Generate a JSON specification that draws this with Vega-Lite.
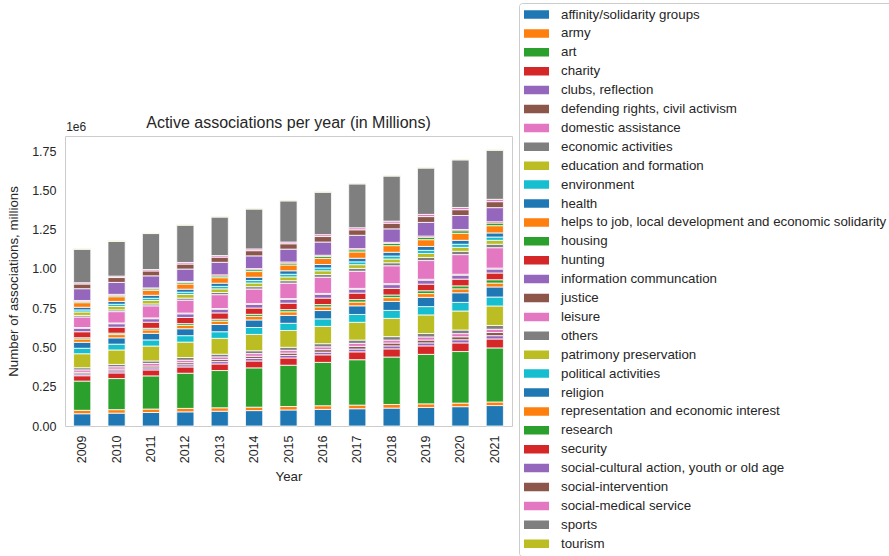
{
  "$schema": "https://vega.github.io/schema/vega-lite/v6.json",
  "autosize": {"type": "none"},
  "padding": {"left": 65, "top": 136, "right": 377, "bottom": 130},
  "width": 447,
  "height": 290,
  "background": "white",
  "config": {
    "font": "Liberation Sans",
    "view": {"stroke": "#cccccc", "strokeWidth": 1},
    "axis": {"labelColor": "#262626", "titleColor": "#262626", "labelFont": "Liberation Sans", "titleFont": "Liberation Sans", "titleFontWeight": "normal", "grid": false, "domain": false, "ticks": false},
    "title": {"font": "Liberation Sans", "fontSize": 16, "fontWeight": "normal", "color": "#262626", "offset": -128}
  },
  "title": "Active associations per year (in Millions)",
  "datasets": {
    "assoc": [
      {"year":"2009","category":"affinity/solidarity groups","value":78},{"year":"2010","category":"affinity/solidarity groups","value":82},{"year":"2011","category":"affinity/solidarity groups","value":86},{"year":"2012","category":"affinity/solidarity groups","value":90},{"year":"2013","category":"affinity/solidarity groups","value":94},{"year":"2014","category":"affinity/solidarity groups","value":98},{"year":"2015","category":"affinity/solidarity groups","value":102},{"year":"2016","category":"affinity/solidarity groups","value":106},{"year":"2017","category":"affinity/solidarity groups","value":110},{"year":"2018","category":"affinity/solidarity groups","value":114},{"year":"2019","category":"affinity/solidarity groups","value":118},{"year":"2020","category":"affinity/solidarity groups","value":123},{"year":"2021","category":"affinity/solidarity groups","value":130},
      {"year":"2009","category":"army","value":22},{"year":"2010","category":"army","value":22},{"year":"2011","category":"army","value":22},{"year":"2012","category":"army","value":22},{"year":"2013","category":"army","value":22},{"year":"2014","category":"army","value":22},{"year":"2015","category":"army","value":22},{"year":"2016","category":"army","value":23},{"year":"2017","category":"army","value":23},{"year":"2018","category":"army","value":23},{"year":"2019","category":"army","value":23},{"year":"2020","category":"army","value":23},{"year":"2021","category":"army","value":23},
      {"year":"2009","category":"art","value":186},{"year":"2010","category":"art","value":198},{"year":"2011","category":"art","value":211},{"year":"2012","category":"art","value":224},{"year":"2013","category":"art","value":237},{"year":"2014","category":"art","value":250},{"year":"2015","category":"art","value":263},{"year":"2016","category":"art","value":276},{"year":"2017","category":"art","value":289},{"year":"2018","category":"art","value":302},{"year":"2019","category":"art","value":315},{"year":"2020","category":"art","value":328},{"year":"2021","category":"art","value":344},
      {"year":"2009","category":"charity","value":34},{"year":"2010","category":"charity","value":36},{"year":"2011","category":"charity","value":38},{"year":"2012","category":"charity","value":40},{"year":"2013","category":"charity","value":42},{"year":"2014","category":"charity","value":44},{"year":"2015","category":"charity","value":46},{"year":"2016","category":"charity","value":48},{"year":"2017","category":"charity","value":50},{"year":"2018","category":"charity","value":52},{"year":"2019","category":"charity","value":54},{"year":"2020","category":"charity","value":55},{"year":"2021","category":"charity","value":57},
      {"year":"2009","category":"clubs, reflection","value":12},{"year":"2010","category":"clubs, reflection","value":13},{"year":"2011","category":"clubs, reflection","value":13},{"year":"2012","category":"clubs, reflection","value":14},{"year":"2013","category":"clubs, reflection","value":15},{"year":"2014","category":"clubs, reflection","value":16},{"year":"2015","category":"clubs, reflection","value":16},{"year":"2016","category":"clubs, reflection","value":17},{"year":"2017","category":"clubs, reflection","value":18},{"year":"2018","category":"clubs, reflection","value":19},{"year":"2019","category":"clubs, reflection","value":19},{"year":"2020","category":"clubs, reflection","value":20},{"year":"2021","category":"clubs, reflection","value":21},
      {"year":"2009","category":"defending rights, civil activism","value":10},{"year":"2010","category":"defending rights, civil activism","value":11},{"year":"2011","category":"defending rights, civil activism","value":12},{"year":"2012","category":"defending rights, civil activism","value":13},{"year":"2013","category":"defending rights, civil activism","value":13},{"year":"2014","category":"defending rights, civil activism","value":14},{"year":"2015","category":"defending rights, civil activism","value":15},{"year":"2016","category":"defending rights, civil activism","value":16},{"year":"2017","category":"defending rights, civil activism","value":17},{"year":"2018","category":"defending rights, civil activism","value":18},{"year":"2019","category":"defending rights, civil activism","value":18},{"year":"2020","category":"defending rights, civil activism","value":19},{"year":"2021","category":"defending rights, civil activism","value":20},
      {"year":"2009","category":"domestic assistance","value":15},{"year":"2010","category":"domestic assistance","value":15},{"year":"2011","category":"domestic assistance","value":16},{"year":"2012","category":"domestic assistance","value":16},{"year":"2013","category":"domestic assistance","value":17},{"year":"2014","category":"domestic assistance","value":17},{"year":"2015","category":"domestic assistance","value":18},{"year":"2016","category":"domestic assistance","value":18},{"year":"2017","category":"domestic assistance","value":19},{"year":"2018","category":"domestic assistance","value":19},{"year":"2019","category":"domestic assistance","value":20},{"year":"2020","category":"domestic assistance","value":20},{"year":"2021","category":"domestic assistance","value":21},
      {"year":"2009","category":"economic activities","value":14},{"year":"2010","category":"economic activities","value":15},{"year":"2011","category":"economic activities","value":16},{"year":"2012","category":"economic activities","value":17},{"year":"2013","category":"economic activities","value":17},{"year":"2014","category":"economic activities","value":18},{"year":"2015","category":"economic activities","value":19},{"year":"2016","category":"economic activities","value":20},{"year":"2017","category":"economic activities","value":21},{"year":"2018","category":"economic activities","value":22},{"year":"2019","category":"economic activities","value":22},{"year":"2020","category":"economic activities","value":23},{"year":"2021","category":"economic activities","value":24},
      {"year":"2009","category":"education and formation","value":89},{"year":"2010","category":"education and formation","value":92},{"year":"2011","category":"education and formation","value":95},{"year":"2012","category":"education and formation","value":98},{"year":"2013","category":"education and formation","value":101},{"year":"2014","category":"education and formation","value":104},{"year":"2015","category":"education and formation","value":107},{"year":"2016","category":"education and formation","value":110},{"year":"2017","category":"education and formation","value":113},{"year":"2018","category":"education and formation","value":116},{"year":"2019","category":"education and formation","value":118},{"year":"2020","category":"education and formation","value":121},{"year":"2021","category":"education and formation","value":124},
      {"year":"2009","category":"environment","value":35},{"year":"2010","category":"environment","value":37},{"year":"2011","category":"environment","value":39},{"year":"2012","category":"environment","value":41},{"year":"2013","category":"environment","value":42},{"year":"2014","category":"environment","value":44},{"year":"2015","category":"environment","value":46},{"year":"2016","category":"environment","value":48},{"year":"2017","category":"environment","value":50},{"year":"2018","category":"environment","value":51},{"year":"2019","category":"environment","value":53},{"year":"2020","category":"environment","value":55},{"year":"2021","category":"environment","value":57},
      {"year":"2009","category":"health","value":38},{"year":"2010","category":"health","value":40},{"year":"2011","category":"health","value":42},{"year":"2012","category":"health","value":44},{"year":"2013","category":"health","value":46},{"year":"2014","category":"health","value":48},{"year":"2015","category":"health","value":50},{"year":"2016","category":"health","value":53},{"year":"2017","category":"health","value":55},{"year":"2018","category":"health","value":57},{"year":"2019","category":"health","value":59},{"year":"2020","category":"health","value":61},{"year":"2021","category":"health","value":64},
      {"year":"2009","category":"helps to job, local development and economic solidarity","value":21},{"year":"2010","category":"helps to job, local development and economic solidarity","value":21},{"year":"2011","category":"helps to job, local development and economic solidarity","value":22},{"year":"2012","category":"helps to job, local development and economic solidarity","value":22},{"year":"2013","category":"helps to job, local development and economic solidarity","value":22},{"year":"2014","category":"helps to job, local development and economic solidarity","value":23},{"year":"2015","category":"helps to job, local development and economic solidarity","value":23},{"year":"2016","category":"helps to job, local development and economic solidarity","value":23},{"year":"2017","category":"helps to job, local development and economic solidarity","value":24},{"year":"2018","category":"helps to job, local development and economic solidarity","value":24},{"year":"2019","category":"helps to job, local development and economic solidarity","value":24},{"year":"2020","category":"helps to job, local development and economic solidarity","value":25},{"year":"2021","category":"helps to job, local development and economic solidarity","value":25},
      {"year":"2009","category":"housing","value":8},{"year":"2010","category":"housing","value":9},{"year":"2011","category":"housing","value":10},{"year":"2012","category":"housing","value":11},{"year":"2013","category":"housing","value":12},{"year":"2014","category":"housing","value":13},{"year":"2015","category":"housing","value":14},{"year":"2016","category":"housing","value":15},{"year":"2017","category":"housing","value":16},{"year":"2018","category":"housing","value":17},{"year":"2019","category":"housing","value":18},{"year":"2020","category":"housing","value":19},{"year":"2021","category":"housing","value":21},
      {"year":"2009","category":"hunting","value":38},{"year":"2010","category":"hunting","value":38},{"year":"2011","category":"hunting","value":39},{"year":"2012","category":"hunting","value":39},{"year":"2013","category":"hunting","value":40},{"year":"2014","category":"hunting","value":40},{"year":"2015","category":"hunting","value":41},{"year":"2016","category":"hunting","value":41},{"year":"2017","category":"hunting","value":41},{"year":"2018","category":"hunting","value":42},{"year":"2019","category":"hunting","value":42},{"year":"2020","category":"hunting","value":43},{"year":"2021","category":"hunting","value":43},
      {"year":"2009","category":"information communcation","value":22},{"year":"2010","category":"information communcation","value":22},{"year":"2011","category":"information communcation","value":22},{"year":"2012","category":"information communcation","value":23},{"year":"2013","category":"information communcation","value":23},{"year":"2014","category":"information communcation","value":23},{"year":"2015","category":"information communcation","value":24},{"year":"2016","category":"information communcation","value":24},{"year":"2017","category":"information communcation","value":24},{"year":"2018","category":"information communcation","value":24},{"year":"2019","category":"information communcation","value":25},{"year":"2020","category":"information communcation","value":25},{"year":"2021","category":"information communcation","value":25},
      {"year":"2009","category":"justice","value":5},{"year":"2010","category":"justice","value":5},{"year":"2011","category":"justice","value":5},{"year":"2012","category":"justice","value":5},{"year":"2013","category":"justice","value":5},{"year":"2014","category":"justice","value":5},{"year":"2015","category":"justice","value":5},{"year":"2016","category":"justice","value":6},{"year":"2017","category":"justice","value":6},{"year":"2018","category":"justice","value":6},{"year":"2019","category":"justice","value":6},{"year":"2020","category":"justice","value":6},{"year":"2021","category":"justice","value":6},
      {"year":"2009","category":"leisure","value":67},{"year":"2010","category":"leisure","value":72},{"year":"2011","category":"leisure","value":77},{"year":"2012","category":"leisure","value":82},{"year":"2013","category":"leisure","value":88},{"year":"2014","category":"leisure","value":93},{"year":"2015","category":"leisure","value":98},{"year":"2016","category":"leisure","value":103},{"year":"2017","category":"leisure","value":109},{"year":"2018","category":"leisure","value":114},{"year":"2019","category":"leisure","value":119},{"year":"2020","category":"leisure","value":125},{"year":"2021","category":"leisure","value":130},
      {"year":"2009","category":"others","value":10},{"year":"2010","category":"others","value":11},{"year":"2011","category":"others","value":12},{"year":"2012","category":"others","value":13},{"year":"2013","category":"others","value":14},{"year":"2014","category":"others","value":15},{"year":"2015","category":"others","value":16},{"year":"2016","category":"others","value":17},{"year":"2017","category":"others","value":18},{"year":"2018","category":"others","value":19},{"year":"2019","category":"others","value":20},{"year":"2020","category":"others","value":21},{"year":"2021","category":"others","value":22},
      {"year":"2009","category":"patrimony preservation","value":22},{"year":"2010","category":"patrimony preservation","value":22},{"year":"2011","category":"patrimony preservation","value":22},{"year":"2012","category":"patrimony preservation","value":23},{"year":"2013","category":"patrimony preservation","value":23},{"year":"2014","category":"patrimony preservation","value":23},{"year":"2015","category":"patrimony preservation","value":24},{"year":"2016","category":"patrimony preservation","value":24},{"year":"2017","category":"patrimony preservation","value":24},{"year":"2018","category":"patrimony preservation","value":24},{"year":"2019","category":"patrimony preservation","value":25},{"year":"2020","category":"patrimony preservation","value":25},{"year":"2021","category":"patrimony preservation","value":25},
      {"year":"2009","category":"political activities","value":13},{"year":"2010","category":"political activities","value":14},{"year":"2011","category":"political activities","value":14},{"year":"2012","category":"political activities","value":15},{"year":"2013","category":"political activities","value":16},{"year":"2014","category":"political activities","value":16},{"year":"2015","category":"political activities","value":17},{"year":"2016","category":"political activities","value":18},{"year":"2017","category":"political activities","value":18},{"year":"2018","category":"political activities","value":19},{"year":"2019","category":"political activities","value":20},{"year":"2020","category":"political activities","value":20},{"year":"2021","category":"political activities","value":21},
      {"year":"2009","category":"religion","value":17},{"year":"2010","category":"religion","value":18},{"year":"2011","category":"religion","value":19},{"year":"2012","category":"religion","value":19},{"year":"2013","category":"religion","value":20},{"year":"2014","category":"religion","value":21},{"year":"2015","category":"religion","value":22},{"year":"2016","category":"religion","value":22},{"year":"2017","category":"religion","value":23},{"year":"2018","category":"religion","value":24},{"year":"2019","category":"religion","value":25},{"year":"2020","category":"religion","value":25},{"year":"2021","category":"religion","value":26},
      {"year":"2009","category":"representation and economic interest","value":29},{"year":"2010","category":"representation and economic interest","value":30},{"year":"2011","category":"representation and economic interest","value":32},{"year":"2012","category":"representation and economic interest","value":33},{"year":"2013","category":"representation and economic interest","value":35},{"year":"2014","category":"representation and economic interest","value":36},{"year":"2015","category":"representation and economic interest","value":37},{"year":"2016","category":"representation and economic interest","value":39},{"year":"2017","category":"representation and economic interest","value":40},{"year":"2018","category":"representation and economic interest","value":42},{"year":"2019","category":"representation and economic interest","value":43},{"year":"2020","category":"representation and economic interest","value":45},{"year":"2021","category":"representation and economic interest","value":46},
      {"year":"2009","category":"research","value":8},{"year":"2010","category":"research","value":9},{"year":"2011","category":"research","value":9},{"year":"2012","category":"research","value":10},{"year":"2013","category":"research","value":11},{"year":"2014","category":"research","value":12},{"year":"2015","category":"research","value":12},{"year":"2016","category":"research","value":13},{"year":"2017","category":"research","value":14},{"year":"2018","category":"research","value":14},{"year":"2019","category":"research","value":15},{"year":"2020","category":"research","value":16},{"year":"2021","category":"research","value":17},
      {"year":"2009","category":"security","value":6},{"year":"2010","category":"security","value":6},{"year":"2011","category":"security","value":6},{"year":"2012","category":"security","value":6},{"year":"2013","category":"security","value":7},{"year":"2014","category":"security","value":7},{"year":"2015","category":"security","value":7},{"year":"2016","category":"security","value":7},{"year":"2017","category":"security","value":7},{"year":"2018","category":"security","value":7},{"year":"2019","category":"security","value":8},{"year":"2020","category":"security","value":8},{"year":"2021","category":"security","value":8},
      {"year":"2009","category":"social-cultural action, youth or old age","value":75},{"year":"2010","category":"social-cultural action, youth or old age","value":76},{"year":"2011","category":"social-cultural action, youth or old age","value":77},{"year":"2012","category":"social-cultural action, youth or old age","value":79},{"year":"2013","category":"social-cultural action, youth or old age","value":80},{"year":"2014","category":"social-cultural action, youth or old age","value":81},{"year":"2015","category":"social-cultural action, youth or old age","value":82},{"year":"2016","category":"social-cultural action, youth or old age","value":84},{"year":"2017","category":"social-cultural action, youth or old age","value":85},{"year":"2018","category":"social-cultural action, youth or old age","value":86},{"year":"2019","category":"social-cultural action, youth or old age","value":87},{"year":"2020","category":"social-cultural action, youth or old age","value":89},{"year":"2021","category":"social-cultural action, youth or old age","value":90},
      {"year":"2009","category":"social-intervention","value":30},{"year":"2010","category":"social-intervention","value":31},{"year":"2011","category":"social-intervention","value":31},{"year":"2012","category":"social-intervention","value":32},{"year":"2013","category":"social-intervention","value":33},{"year":"2014","category":"social-intervention","value":33},{"year":"2015","category":"social-intervention","value":34},{"year":"2016","category":"social-intervention","value":35},{"year":"2017","category":"social-intervention","value":35},{"year":"2018","category":"social-intervention","value":36},{"year":"2019","category":"social-intervention","value":37},{"year":"2020","category":"social-intervention","value":37},{"year":"2021","category":"social-intervention","value":38},
      {"year":"2009","category":"social-medical service","value":8},{"year":"2010","category":"social-medical service","value":9},{"year":"2011","category":"social-medical service","value":9},{"year":"2012","category":"social-medical service","value":10},{"year":"2013","category":"social-medical service","value":10},{"year":"2014","category":"social-medical service","value":11},{"year":"2015","category":"social-medical service","value":11},{"year":"2016","category":"social-medical service","value":12},{"year":"2017","category":"social-medical service","value":13},{"year":"2018","category":"social-medical service","value":13},{"year":"2019","category":"social-medical service","value":14},{"year":"2020","category":"social-medical service","value":14},{"year":"2021","category":"social-medical service","value":15},
      {"year":"2009","category":"sports","value":213},{"year":"2010","category":"sports","value":221},{"year":"2011","category":"sports","value":229},{"year":"2012","category":"sports","value":237},{"year":"2013","category":"sports","value":245},{"year":"2014","category":"sports","value":254},{"year":"2015","category":"sports","value":262},{"year":"2016","category":"sports","value":270},{"year":"2017","category":"sports","value":279},{"year":"2018","category":"sports","value":287},{"year":"2019","category":"sports","value":295},{"year":"2020","category":"sports","value":303},{"year":"2021","category":"sports","value":312},
      {"year":"2009","category":"tourism","value":4},{"year":"2010","category":"tourism","value":4},{"year":"2011","category":"tourism","value":4},{"year":"2012","category":"tourism","value":4},{"year":"2013","category":"tourism","value":4},{"year":"2014","category":"tourism","value":4},{"year":"2015","category":"tourism","value":4},{"year":"2016","category":"tourism","value":4},{"year":"2017","category":"tourism","value":4},{"year":"2018","category":"tourism","value":4},{"year":"2019","category":"tourism","value":4},{"year":"2020","category":"tourism","value":4},{"year":"2021","category":"tourism","value":4}
    ],
    "offsetlabel": [{"year": "2009", "top": 1846, "text": "1e6"}]
  },
  "layer": [
    {
      "data": {"name": "assoc"},
      "mark": {"type": "bar", "stroke": "white", "strokeWidth": 0.8},
      "encoding": {
        "x": {
          "field": "year", "type": "nominal",
          "scale": {"paddingInner": 0.5, "paddingOuter": 0.25},
          "axis": {"title": "Year", "labelAngle": -90, "labelFontSize": 12.5, "labelPadding": 9, "titleFontSize": 13.3, "titlePadding": 7}
        },
        "y": {
          "field": "value", "type": "quantitative", "stack": "zero",
          "scale": {"domain": [0, 1846], "nice": false, "zero": true},
          "axis": {"title": "Number of associations, millions", "values": [0, 250, 500, 750, 1000, 1250, 1500, 1750], "labelExpr": "format(datum.value / 1000, '.2f')", "labelFontSize": 12.5, "labelPadding": 9, "titleFontSize": 13.3, "titlePadding": 11}
        },
        "order": {"field": "category", "type": "nominal", "sort": "ascending"},
        "color": {
          "field": "category", "type": "nominal",
          "scale": {
            "domain": ["affinity/solidarity groups","army","art","charity","clubs, reflection","defending rights, civil activism","domestic assistance","economic activities","education and formation","environment","health","helps to job, local development and economic solidarity","housing","hunting","information communcation","justice","leisure","others","patrimony preservation","political activities","religion","representation and economic interest","research","security","social-cultural action, youth or old age","social-intervention","social-medical service","sports","tourism"],
            "range": ["#1f77b4","#ff7f0e","#2ca02c","#d62728","#9467bd","#8c564b","#e377c2","#7f7f7f","#bcbd22","#17becf","#1f77b4","#ff7f0e","#2ca02c","#d62728","#9467bd","#8c564b","#e377c2","#7f7f7f","#bcbd22","#17becf","#1f77b4","#ff7f0e","#2ca02c","#d62728","#9467bd","#8c564b","#e377c2","#7f7f7f","#bcbd22"]
          },
          "legend": {
            "title": null, "orient": "none", "legendX": 454, "legendY": -133, "direction": "vertical",
            "symbolType": "M-1,-0.34H1V0.34H-1Z", "symbolSize": 625, "symbolStrokeWidth": 0,
            "labelFont": "Liberation Sans", "labelFontSize": 13.3, "labelColor": "#262626", "labelOffset": 12, "labelLimit": 500,
            "padding": 5, "rowPadding": 4.9, "clipHeight": 13,
            "strokeColor": "#cccccc", "fillColor": "white", "cornerRadius": 3
          }
        }
      }
    },
    {
      "data": {"name": "offsetlabel"},
      "mark": {"type": "text", "align": "left", "baseline": "bottom", "dx": -16, "dy": -2, "fontSize": 12, "color": "#262626", "font": "Liberation Sans"},
      "encoding": {
        "x": {"field": "year", "type": "nominal"},
        "y": {"field": "top", "type": "quantitative"},
        "text": {"field": "text"}
      }
    }
  ]
}
